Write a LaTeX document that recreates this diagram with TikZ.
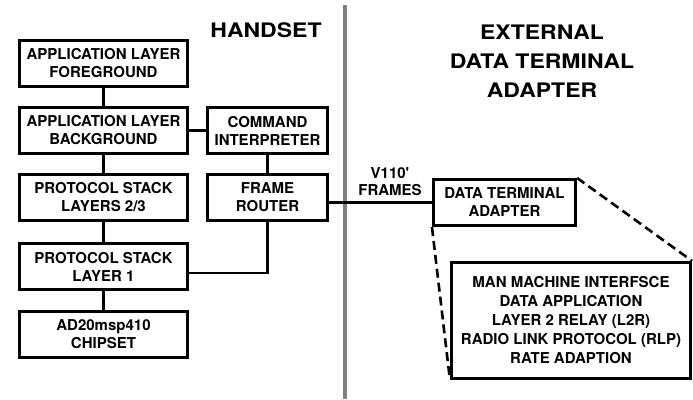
\documentclass[tikz,border=0pt]{standalone}
\usepackage{fontspec}
\setmainfont{TeX Gyre Heros}
\newfontfamily\titlefont{TeX Gyre Heros}[FakeStretch=1.15]
\usepackage{tikz}
\usetikzlibrary{positioning}

\begin{document}
\begin{tikzpicture}[x=1pt, y=-1pt,
	blockbox/.style={draw, line width=2.6pt, minimum width=168pt, minimum height=46.5pt, inner sep=0pt, align=center, font=\bfseries\fontsize{15}{18}\selectfont},
	smallbox/.style={blockbox, minimum width=120.5pt},
	wire/.style={line width=2.6pt},
	zoomline/.style={line width=2.6pt, dash pattern=on 9pt off 5pt},
	heading/.style={align=center, font=\titlefont\bfseries\fontsize{20}{29}\selectfont}]
	\useasboundingbox (0,0) rectangle (693,399);

	\node [heading] (H) at (266,30.5) {HANDSET};
	\node [heading] (X) at (542,61) {EXTERNAL\\DATA TERMINAL\\ADAPTER};

	\node [blockbox] (fg) at (103.5,63.5) {APPLICATION LAYER\\FOREGROUND};
	\node [blockbox] (bg) at (103.5,130.5) {APPLICATION LAYER\\BACKGROUND};
	\node [blockbox] (ps23) at (103.5,197.5) {PROTOCOL STACK\\LAYERS 2/3};
	\node [blockbox] (ps1) at (103.5,266.5) {PROTOCOL STACK\\LAYER 1};
	\node [blockbox] (chip) at (103.5,334.5) {AD20msp410\\CHIPSET};
	\node [smallbox] (ci) at (267.5,130.5) {COMMAND\\INTERPRETER};
	\node [smallbox] (fr) at (267.5,197.5) {FRAME\\ROUTER};

	\node [blockbox, minimum width=142.5pt] (dta) at (504.5,202.5) {DATA TERMINAL\\ADAPTER};
	\node [blockbox, minimum width=239.5pt, minimum height=116.5pt, font=\bfseries\fontsize{15}{19}\selectfont] (mmi) at (571,320.5)
		{MAN MACHINE INTERFSCE\\DATA APPLICATION\\LAYER 2 RELAY (L2R)\\RADIO LINK PROTOCOL (RLP)\\RATE ADAPTION};

	\node [align=center, font=\bfseries\fontsize{15}{17.5}\selectfont] (V) at (390,181.5) {V110\textquotesingle\\FRAMES};

	% divider between handset and adapter
	\fill [black!50] (342.5,5) rectangle (346.5,399);

	\draw [wire] (fg) -- (bg);
	\draw [wire] (bg) -- (ps23);
	\draw [wire] (ps23) -- (ps1);
	\draw [wire] (ps1) -- (chip);
	\draw [wire] (bg) -- (ci);
	\draw [wire] (ci) -- (fr);
	\draw [wire] (ps1.east) ++(0,6.5) -| (fr.south);
	\draw [wire] (fr.east |- dta.west) -- (dta.west);

	\draw [zoomline] (dta.north east) -- (mmi.north east);
	\draw [zoomline] (dta.south west) -- (mmi.south west);
\end{tikzpicture}
\end{document}
